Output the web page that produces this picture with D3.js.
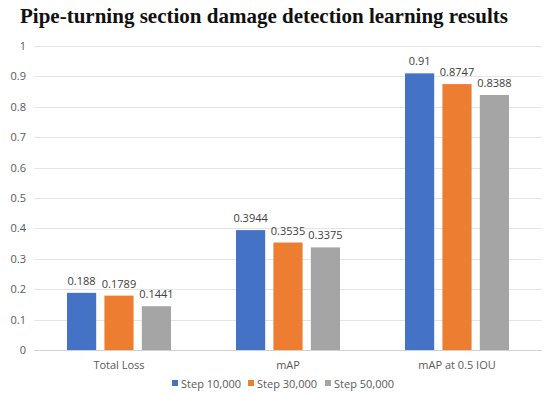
<!DOCTYPE html>
<html>
<head>
<meta charset="utf-8">
<script src="https://cdn.jsdelivr.net/npm/d3@7"></script>
<style>
  body { margin: 0; background: #fff; }
  svg { display: block; }
</style>
</head>
<body>
<svg id="chart" width="550" height="396"></svg>
<script>
var categories = ["Total Loss", "mAP", "mAP at 0.5 IOU"];
var seriesNames = ["Step 10,000", "Step 30,000", "Step 50,000"];
var step10k = [0.188, 0.3944, 0.91];
var step30k = [0.1789, 0.3535, 0.8747];
var step50k = [0.1441, 0.3375, 0.8388];
var yTicks = [0, 0.1, 0.2, 0.3, 0.4, 0.5, 0.6, 0.7, 0.8, 0.9, 1];
var colors = ["#4472C4", "#ED7D31", "#A5A5A5"];

var series = [step10k, step30k, step50k];

var svg = d3.select("#chart");
var plotLeft = 34.5, plotRight = 541.5, plotTop = 46, plotBottom = 350;
var font = "'Open Sans', 'Noto Sans', sans-serif";

// title
svg.append("text")
  .attr("x", 264).attr("y", 23)
  .attr("text-anchor", "middle")
  .attr("font-family", "'Liberation Serif', serif")
  .attr("font-weight", "bold")
  .attr("font-size", 21)
  .attr("textLength", 488)
  .attr("fill", "#111")
  .text("Pipe-turning section damage detection learning results");

var y = d3.scaleLinear().domain([0, 1]).range([plotBottom, plotTop]);
var x = d3.scaleBand().domain(categories).range([plotLeft, plotRight]);
var xInner = d3.scaleBand().domain(seriesNames)
  .range([32.5, x.bandwidth() - 32.5]).paddingInner(0.22);

// gridlines
svg.append("g").selectAll("line")
  .data(yTicks).enter().append("line")
  .attr("x1", plotLeft).attr("x2", plotRight)
  .attr("y1", function(d){ return Math.round(y(d)) + 0.5; })
  .attr("y2", function(d){ return Math.round(y(d)) + 0.5; })
  .attr("stroke", function(d){ return d == 0 ? "#d0d0d0" : "#e4e4e4"; })
  .attr("stroke-width", 1);

// y axis labels
var yAxis = d3.axisLeft(y).tickValues(yTicks).tickSize(0).tickPadding(0)
  .tickFormat(function(d){ return d3.format("~g")(d); });
var ga = svg.append("g").attr("transform", "translate(26,0)").call(yAxis);
ga.select(".domain").remove();
ga.selectAll("text").attr("font-family", font).attr("font-size", 11).attr("fill", "#595959");

// bars
var groups = svg.append("g").selectAll("g")
  .data(series).enter().append("g")
  .attr("fill", function(d, i){ return colors[i]; });

groups.each(function(vals, si){
  var g = d3.select(this);
  g.selectAll("rect").data(vals).enter().append("rect")
    .attr("x", function(d, ci){ return x(categories[ci]) + xInner(seriesNames[si]); })
    .attr("width", xInner.bandwidth())
    .attr("y", function(d){ return y(d); })
    .attr("height", function(d){ return y(0) - y(d); });
  g.selectAll("text").data(vals).enter().append("text")
    .attr("x", function(d, ci){ return x(categories[ci]) + xInner(seriesNames[si]) + xInner.bandwidth() / 2; })
    .attr("y", function(d){ return y(d) - 8; })
    .attr("text-anchor", "middle")
    .attr("font-family", font).attr("font-size", 11)
    .attr("fill", "#404040")
    .text(function(d){ return d; });
});

// x axis labels
var xAxis = d3.axisBottom(x).tickSize(0).tickPadding(0);
var gx = svg.append("g").attr("transform", "translate(0," + (plotBottom + 19) + ")").call(xAxis);
gx.select(".domain").remove();
gx.selectAll("text").attr("dy", 0).attr("font-family", font).attr("font-size", 11).attr("fill", "#595959");

// legend
var legendX = [172, 248, 325];
var legend = svg.append("g").selectAll("g")
  .data(seriesNames).enter().append("g")
  .attr("transform", function(d, i){ return "translate(" + legendX[i] + ",388)"; });
legend.append("rect")
  .attr("x", 0).attr("y", -8).attr("width", 6).attr("height", 6)
  .attr("fill", function(d, i){ return colors[i]; });
legend.append("text")
  .attr("x", 9).attr("y", 0)
  .attr("font-family", font).attr("font-size", 11).attr("fill", "#595959")
  .text(function(d){ return d; });
</script>
</body>
</html>
